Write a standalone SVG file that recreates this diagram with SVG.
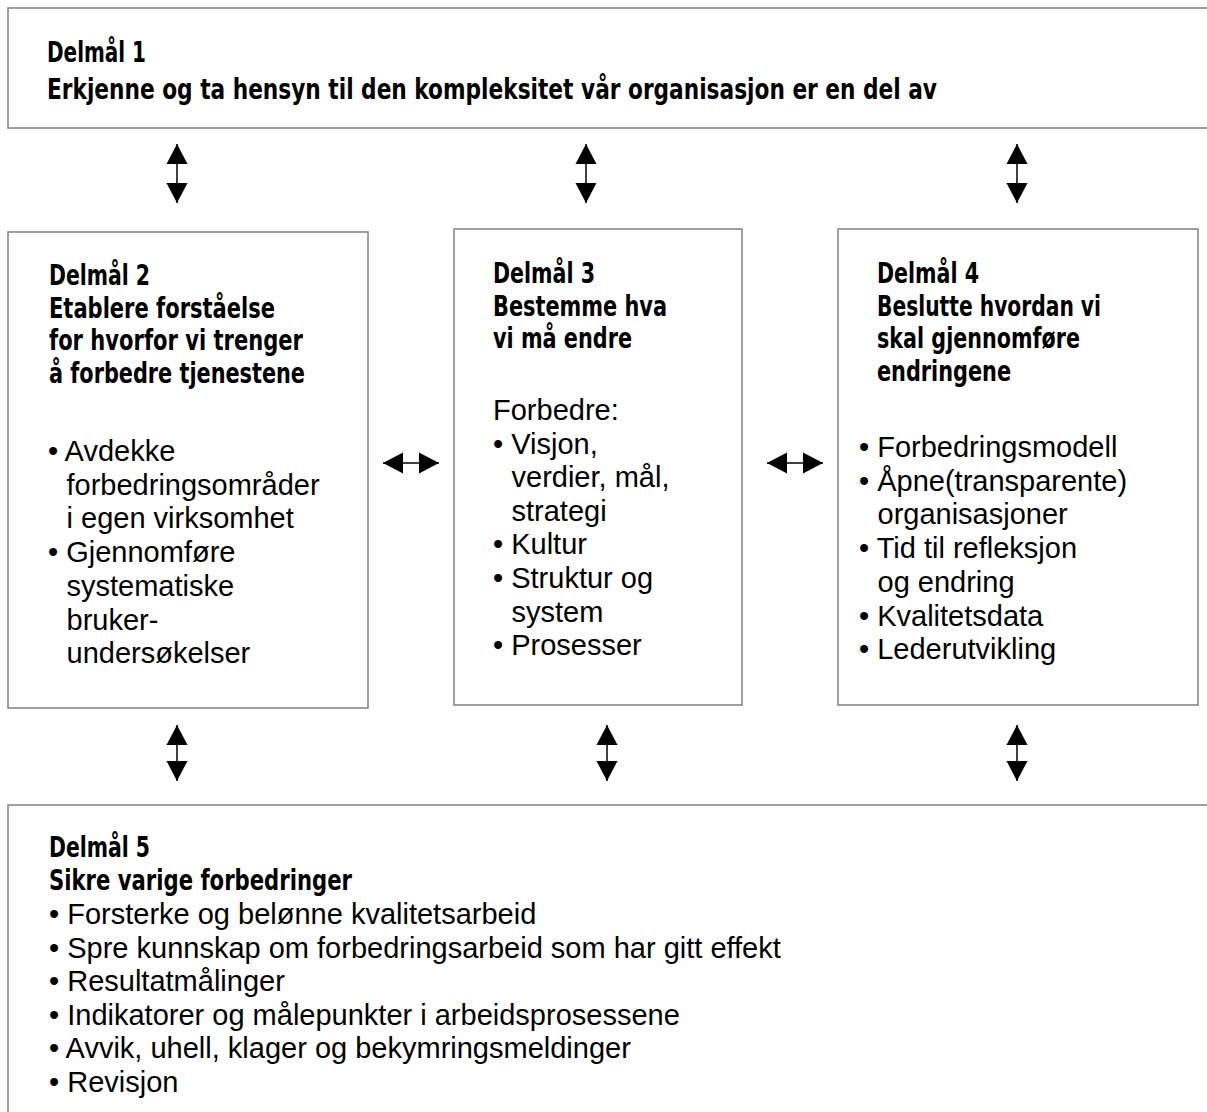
<svg xmlns="http://www.w3.org/2000/svg" width="1207" height="1112" viewBox="0 0 1207 1112">
<style>
.box{fill:#fff;stroke:#808080;stroke-width:1.5}
.h{font-family:"Liberation Sans Narrow","DejaVu Sans Condensed","DejaVu Sans",sans-serif;font-weight:bold;font-size:29px;fill:#000}
.t{font-family:"Liberation Sans",Arial,sans-serif;font-size:29px;fill:#000}
.arr{stroke:#000;stroke-width:1.5;fill:none;marker-start:url(#ah);marker-end:url(#ah)}
</style>
<defs>
<marker id="ah" markerUnits="userSpaceOnUse" markerWidth="20" markerHeight="22" refX="20" refY="10.5" orient="auto-start-reverse" viewBox="0 0 20 21">
<path d="M0,0 L20,10.5 L0,21 Z" fill="#000"/>
</marker>
</defs>
<rect width="1207" height="1112" fill="#fff"/>

<g id="delmal1">
<rect class="box" x="8" y="8" width="1215" height="120"/>
<text class="h" x="47" y="62" textLength="99" lengthAdjust="spacingAndGlyphs">Delmål 1</text>
<text class="h" x="47" y="99" textLength="890" lengthAdjust="spacingAndGlyphs">Erkjenne og ta hensyn til den kompleksitet vår organisasjon er en del av</text>
</g>

<g id="delmal2">
<rect class="box" x="8" y="232" width="360" height="476"/>
<text class="h" x="49" y="285" textLength="101" lengthAdjust="spacingAndGlyphs">Delmål 2</text>
<text class="h" x="49" y="317.5" textLength="226" lengthAdjust="spacingAndGlyphs">Etablere forståelse</text>
<text class="h" x="49" y="350" textLength="254" lengthAdjust="spacingAndGlyphs">for hvorfor vi trenger</text>
<text class="h" x="49" y="382.5" textLength="256" lengthAdjust="spacingAndGlyphs">å forbedre tjenestene</text>
<text class="t" x="48" y="461">• Avdekke</text>
<text class="t" x="66.5" y="494.7">forbedringsområder</text>
<text class="t" x="66.5" y="528.4">i egen virksomhet</text>
<text class="t" x="48" y="562">• Gjennomføre</text>
<text class="t" x="66.5" y="595.8">systematiske</text>
<text class="t" x="66.5" y="629.5">bruker-</text>
<text class="t" x="66.5" y="663.2">undersøkelser</text>
</g>

<g id="delmal3">
<rect class="box" x="454" y="229" width="288" height="476"/>
<text class="h" x="493" y="283" textLength="102" lengthAdjust="spacingAndGlyphs">Delmål 3</text>
<text class="h" x="493" y="315.5" textLength="174" lengthAdjust="spacingAndGlyphs">Bestemme hva</text>
<text class="h" x="493" y="348" textLength="139" lengthAdjust="spacingAndGlyphs">vi må endre</text>
<text class="t" x="493" y="420">Forbedre:</text>
<text class="t" x="493" y="453.6">• Visjon,</text>
<text class="t" x="511.5" y="487.2">verdier, mål,</text>
<text class="t" x="511.5" y="520.8">strategi</text>
<text class="t" x="493" y="554.4">• Kultur</text>
<text class="t" x="493" y="588">• Struktur og</text>
<text class="t" x="511.5" y="621.6">system</text>
<text class="t" x="493" y="655.2">• Prosesser</text>
</g>

<g id="delmal4">
<rect class="box" x="838" y="229" width="360" height="476"/>
<text class="h" x="877" y="283" textLength="102" lengthAdjust="spacingAndGlyphs">Delmål 4</text>
<text class="h" x="877" y="315.5" textLength="224" lengthAdjust="spacingAndGlyphs">Beslutte hvordan vi</text>
<text class="h" x="877" y="348" textLength="203" lengthAdjust="spacingAndGlyphs">skal gjennomføre</text>
<text class="h" x="877" y="380.5" textLength="134" lengthAdjust="spacingAndGlyphs">endringene</text>
<text class="t" x="859" y="457">• Forbedringsmodell</text>
<text class="t" x="859" y="490.7">• Åpne(transparente)</text>
<text class="t" x="877.5" y="524.4">organisasjoner</text>
<text class="t" x="859" y="558">• Tid til refleksjon</text>
<text class="t" x="877.5" y="591.8">og endring</text>
<text class="t" x="859" y="625.5">• Kvalitetsdata</text>
<text class="t" x="859" y="659.2">• Lederutvikling</text>
</g>

<g id="delmal5">
<rect class="box" x="8" y="805" width="1215" height="320"/>
<text class="h" x="49" y="857" textLength="101" lengthAdjust="spacingAndGlyphs">Delmål 5</text>
<text class="h" x="49" y="890" textLength="303" lengthAdjust="spacingAndGlyphs">Sikre varige forbedringer</text>
<text class="t" x="49" y="924">• Forsterke og belønne kvalitetsarbeid</text>
<text class="t" x="49" y="957.6">• Spre kunnskap om forbedringsarbeid som har gitt effekt</text>
<text class="t" x="49" y="991.2">• Resultatmålinger</text>
<text class="t" x="49" y="1024.8">• Indikatorer og målepunkter i arbeidsprosessene</text>
<text class="t" x="49" y="1058.4">• Avvik, uhell, klager og bekymringsmeldinger</text>
<text class="t" x="49" y="1092">• Revisjon</text>
</g>

<g id="connectors">
<line class="arr" x1="177" y1="144" x2="177" y2="203"/>
<line class="arr" x1="586" y1="144" x2="586" y2="203"/>
<line class="arr" x1="1017" y1="144" x2="1017" y2="203"/>
<line class="arr" x1="383" y1="463" x2="439" y2="463"/>
<line class="arr" x1="767" y1="463" x2="823" y2="463"/>
<line class="arr" x1="177" y1="725" x2="177" y2="781"/>
<line class="arr" x1="607" y1="725" x2="607" y2="781"/>
<line class="arr" x1="1017" y1="725" x2="1017" y2="781"/>
</g>
</svg>
